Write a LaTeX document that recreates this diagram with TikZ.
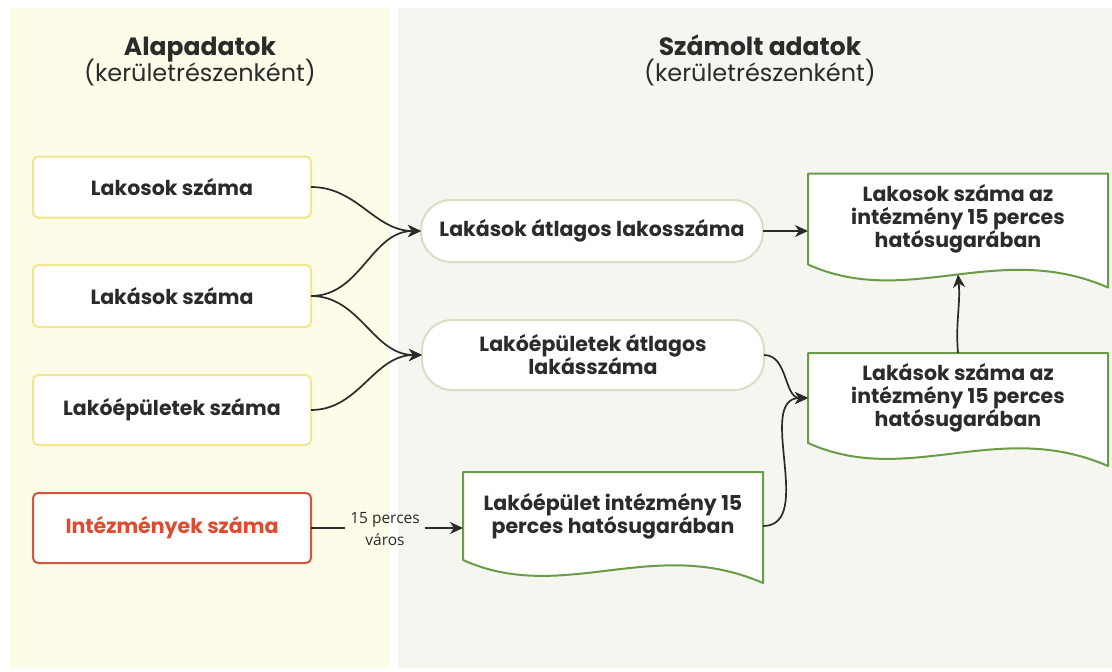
\documentclass[tikz,border=0pt]{standalone}
\usepackage{fontspec}
\setmainfont{Poppins}
\newfontfamily\labelfont{Open Sans}
\usetikzlibrary{arrows.meta,backgrounds}

\definecolor{leftBack}{HTML}{FCFCE8}
\definecolor{rightBack}{HTML}{F5F6EF}
\definecolor{boxYellow}{HTML}{F0E78E}
\definecolor{boxRed}{HTML}{D5553F}
\definecolor{textRed}{HTML}{E04A2E}
\definecolor{pillGreen}{HTML}{D7DFC6}
\definecolor{docGreen}{HTML}{6A9B48}
\definecolor{textDark}{HTML}{2B2B2B}

\begin{document}
\begin{tikzpicture}
[x=1pt,y=-1pt,
  boxDecorate/.style={shape=rectangle,draw=boxYellow,line width=2pt,rounded corners=5pt,
    fill=white,minimum width=278pt,inner sep=0pt,outer sep=0pt,text=textDark,
    font=\bfseries\fontsize{20.5}{23}\selectfont},
  pillDecorate/.style={shape=rectangle,draw=pillGreen,line width=2pt,rounded corners=30pt,
    fill=white,minimum width=342pt,inner sep=0pt,outer sep=0pt,text=textDark,align=center,
    font=\bfseries\fontsize{20.5}{23}\selectfont},
  docDecorate/.style={shape=rectangle,minimum width=300pt,inner sep=0pt,outer sep=0pt,
    text=textDark,align=center,font=\bfseries\fontsize{20.5}{23}\selectfont},
  docLine/.style={draw=docGreen,line width=2pt,fill=white,line join=round},
  titleDecorate/.style={text=textDark,anchor=base,inner sep=0pt},
  lineDecorate/.style={line width=1.7pt,draw=textDark,-{Stealth[length=13pt,width=12pt,inset=4pt]}}]
\useasboundingbox (0,0) rectangle (1112,672);
%% panels
\begin{scope}[on background layer]
  \fill[leftBack] (10,8) rectangle (390,668);
  \fill[rightBack] (398,8) rectangle (1112,668);
\end{scope}
%% titles
\node[titleDecorate,font=\bfseries\fontsize{25}{28}\selectfont] (leftTitle) at (200,55) {Alapadatok};
\node[titleDecorate,font=\fontsize{24}{28}\selectfont] (leftSub) at (200,81) {(kerületrészenként)};
\node[titleDecorate,font=\bfseries\fontsize{25}{28}\selectfont] (rightTitle) at (760,55) {Számolt adatok};
\node[titleDecorate,font=\fontsize{24}{28}\selectfont] (rightSub) at (760,81) {(kerületrészenként)};
%% basic data boxes
\foreach \nodename/\y/\h/\txt in {
  lakosok/187/61/Lakosok száma, lakasok/296/62/Lakások száma,
  epuletek/410/70/Lakóépületek száma}
{
  \node (\nodename) at (172,\y) [boxDecorate,minimum height=\h pt] {\txt};
}
\node (intezmeny) at (172,528) [boxDecorate,draw=boxRed,text=textRed,minimum height=70pt]
  {Intézmények száma};
%% computed values
\node (atlLakos) at (592,231) [pillDecorate,minimum height=62pt] {Lakások átlagos lakosszáma};
\node (atlLakas) at (593,355) [pillDecorate,minimum height=70pt] {Lakóépületek átlagos\\lakásszáma};
\node (hatoEpulet) at (613,516) [docDecorate,minimum height=88pt]
  {Lakóépület intézmény 15\\perces hatósugarában};
\node (hatoLakas) at (958,398) [docDecorate,minimum height=90pt]
  {Lakások száma az\\intézmény 15 perces\\hatósugarában};
\node (hatoLakos) at (958,219) [docDecorate,minimum height=91pt]
  {Lakosok száma az\\intézmény 15 perces\\hatósugarában};
%% document outlines
\begin{scope}[on background layer]
  \foreach \docname in {hatoEpulet, hatoLakas, hatoLakos}
  {
    \draw[docLine] (\docname.south west) -- (\docname.north west) -- (\docname.north east)
      -- ([yshift=-23pt]\docname.south east) .. controls +(-110,-48) and +(100,45)
      .. (\docname.south west) -- cycle;
  }
\end{scope}
\coordinate (lakosWave) at ([yshift=-10pt]hatoLakos.south);
%% edge label
\node (varos) at (385,529) [text=textDark,align=center,inner sep=0pt,
  font=\labelfont\fontsize{15.5}{22}\selectfont] {15 perces\\város};
%% edges
\path
\foreach \startnode/\endnode in {
  lakosok/atlLakos, lakasok/atlLakos, lakasok/atlLakas, epuletek/atlLakas,
  atlLakas/hatoLakas}
{
  (\startnode.east) edge[lineDecorate,out=0,in=180] (\endnode.west)
};
\draw[lineDecorate] ([yshift=-10pt]hatoEpulet.east) to[out=0,in=180] (hatoLakas.west);
\draw[line width=1.7pt,draw=textDark] (intezmeny.east) -- ([xshift=-5pt]intezmeny.east -| varos.west);
\draw[lineDecorate] ([xshift=5pt]intezmeny.east -| varos.east) -- (intezmeny.east -| hatoEpulet.west);
\draw[lineDecorate] (atlLakos.east) -- (atlLakos.east -| hatoLakos.west);
\draw[lineDecorate] (hatoLakas.north) to[out=95,in=-85] (lakosWave);
\end{tikzpicture}
\end{document}
